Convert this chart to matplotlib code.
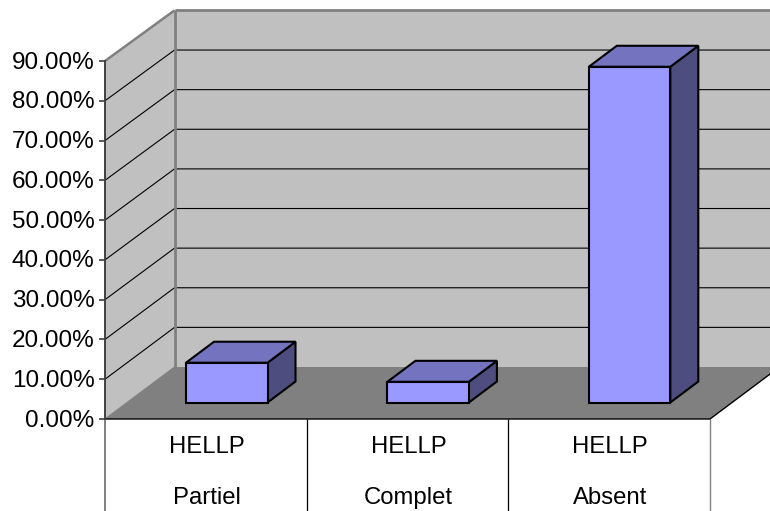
import matplotlib
matplotlib.use("Agg")
import matplotlib.pyplot as plt
from matplotlib.patches import Polygon
from matplotlib.transforms import ScaledTranslation

plt.rcParams['font.family'] = ['Liberation Sans', 'DejaVu Sans']

categories = ["HELLP\nPartiel", "HELLP\nComplet", "HELLP\nAbsent"]
values = [10.0, 5.2, 84.4]
yticks = [0, 10, 20, 30, 40, 50, 60, 70, 80, 90]
ytick_labels = ["0.00%", "10.00%", "20.00%", "30.00%", "40.00%", "50.00%",
                "60.00%", "70.00%", "80.00%", "90.00%"]

W, H = 770, 511
L, R, Y0, Y90 = 105.0, 710.0, 419.0, 61.0
fig = plt.figure(figsize=(W / 100, H / 100), dpi=100, facecolor="white")
ax = fig.add_axes([L / W, 1 - Y0 / H, (R - L) / W, (Y0 - Y90) / H])
ax.set_xlim(0, 3)
ax.set_ylim(0, 90)
ax.patch.set_visible(False)

ux = (R - L) / 3      # px per category
uy = (Y0 - Y90) / 90  # px per value unit
DX = 69.5 / ux        # wall depth, data units
DY0, DY90 = 52.0 / uy, 50.6 / uy


def back(v):
    return v + DY0 + (DY90 - DY0) * v / 90


def poly(pts, fc, ec="none", lw=0, z=1):
    ax.add_patch(Polygon(pts, closed=True, facecolor=fc, edgecolor=ec, linewidth=lw,
                         zorder=z, clip_on=False, joinstyle="miter"))


def line(xs, ys, c="black", lw=0.8, z=2):
    ax.plot(xs, ys, color=c, lw=lw, zorder=z, clip_on=False, solid_capstyle="butt")


XEND = 3 + 0.5
# walls and floor
poly([(DX, back(0)), (XEND, back(0)), (XEND, back(90)), (DX, back(90))], "#C0C0C0")
poly([(0, 0), (DX, back(0)), (DX, back(90)), (0, 90)], "#C0C0C0")
poly([(0, 0), (3, 0), (3 + DX, back(0)), (DX, back(0))], "#808080", z=1.5)

# gridlines
for v in yticks[1:-1]:
    line([0, DX, XEND], [v, back(v), back(v)], lw=0.8)
line([DX, XEND], [back(90), back(90)], c="#808080", lw=2.0, z=2.1)
line([0, DX], [90, back(90)], c="#808080", lw=1.8, z=2.1)
line([DX, DX], [back(0), back(90)], c="#808080", lw=2.0, z=2.1)
line([0, 3, 3 + DX], [0, 0, back(0)], lw=1.0, z=2.2)
line([0, DX], [0, back(0)], c="#808080", lw=0.8, z=2.1)

# table-like category separators below the floor
low = -(H - Y0) / uy
line([0, 0], [low, 0], c="#808080", lw=1.4)
for i in (1, 2):
    line([i, i], [low, 0], lw=0.9)
line([3, 3], [low, 0], c="#808080", lw=1.0)

# bars
bw = 81.5 / ux
bx0 = (186.0 - L) / ux
step = (588.8 - 186.0) / 2 / ux
base = (Y0 - 402.5) / uy
ddx, ddy = 28.0 / ux, 21.0 / uy
for i, val in enumerate(values):
    x0 = bx0 + i * step
    x1, y0, y1 = x0 + bw, base, base + val
    kw = dict(ec="black", lw=1.5, z=3)
    poly([(x1, y0), (x1 + ddx, y0 + ddy), (x1 + ddx, y1 + ddy), (x1, y1)], "#4D4D80", **kw)
    poly([(x0, y1), (x1, y1), (x1 + ddx, y1 + ddy), (x0 + ddx, y1 + ddy)], "#7373BF", **kw)
    poly([(x0, y0), (x1, y0), (x1, y1), (x0, y1)], "#9999FF", **kw)

for s in ("top", "right", "bottom"):
    ax.spines[s].set_visible(False)
ax.spines["left"].set_color("#404040")
ax.spines["left"].set_linewidth(1.4)
ax.spines["left"].set_zorder(5)

ax.set_yticks(yticks)
ax.set_yticklabels(ytick_labels, fontsize=17.5, color="black")
ax.tick_params(axis="y", length=4, width=1.2, color="#404040", pad=3.5)
ax.set_xticks([0.5, 1.5, 2.5])
ax.set_xticklabels(categories, fontsize=17.2, color="black", linespacing=2.7)
ax.tick_params(axis="x", length=0, pad=12.2)
shift = ScaledTranslation(1.0 / 100, 0, fig.dpi_scale_trans)
for t in ax.get_xticklabels():
    t.set_transform(t.get_transform() + shift)
shift_y = ScaledTranslation(0, 1 / 100, fig.dpi_scale_trans)
for t in ax.get_yticklabels():
    t.set_transform(t.get_transform() + shift_y)

fig.savefig("out.png", dpi=100)
